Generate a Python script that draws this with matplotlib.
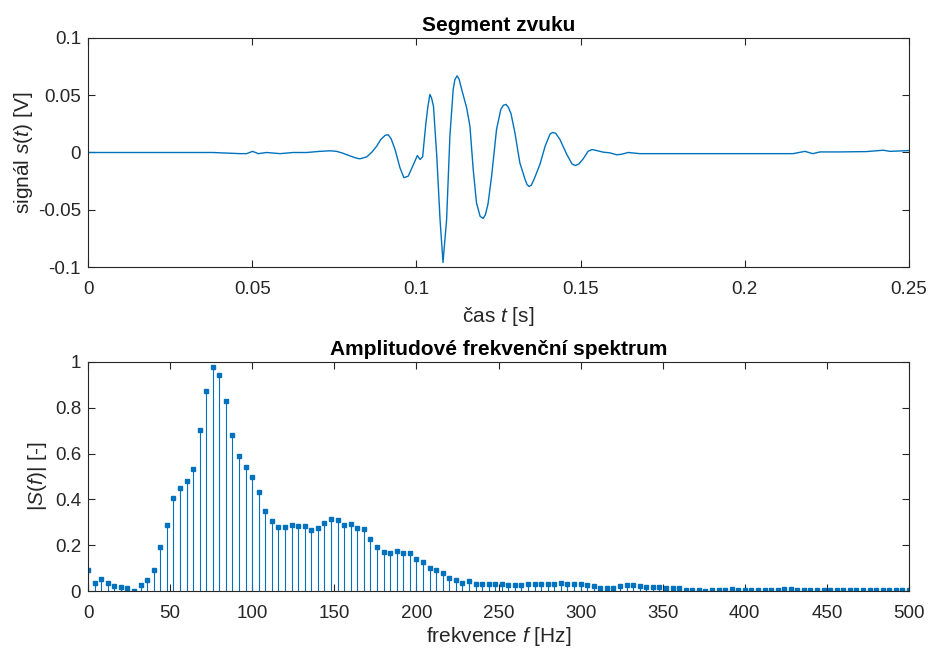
import matplotlib
matplotlib.use("Agg")
import matplotlib.pyplot as plt
import numpy as np

# ---- data: signal segment (time [s], value [V])
sig_t = [0.0, 0.038, 0.0463, 0.0483, 0.0501, 0.0519, 0.0544, 0.0585, 0.0625, 0.0666,
         0.0706, 0.0737, 0.0757, 0.0775, 0.0798, 0.0818, 0.0828, 0.0849, 0.0865, 0.0879,
         0.0892, 0.0905, 0.0914, 0.0923, 0.0935, 0.0950, 0.0962, 0.0975, 0.0991, 0.1003,
         0.1011, 0.1019, 0.1029, 0.1035, 0.1041, 0.1046, 0.1052, 0.1062, 0.1072, 0.1081,
         0.1092, 0.1102, 0.1112, 0.1117, 0.1124, 0.1130, 0.1138, 0.1153, 0.1163, 0.1173,
         0.1183, 0.1194, 0.1203, 0.1210, 0.1218, 0.1229, 0.1244, 0.1257, 0.1265, 0.1273,
         0.1280, 0.1288, 0.1300, 0.1315, 0.1331, 0.1337, 0.1343, 0.1350, 0.1358, 0.1376,
         0.1392, 0.1407, 0.1415, 0.1424, 0.1437, 0.1458, 0.1474, 0.1484, 0.1495, 0.1508,
         0.1523, 0.1535, 0.1549, 0.1569, 0.1589, 0.1610, 0.1625, 0.1645, 0.1680, 0.1864,
         0.2067, 0.2147, 0.2183, 0.2207, 0.2229, 0.2290, 0.2370, 0.2422, 0.2442, 0.2500]
sig_v = [0.0, 0.0, -0.001, -0.001, 0.001, -0.001, 0.0, -0.001, 0.0, 0.0,
         0.001, 0.0015, 0.001, -0.0005, -0.003, -0.005, -0.0055, -0.0038, 0.0005, 0.0055,
         0.0115, 0.0150, 0.0155, 0.0120, 0.0026, -0.0134, -0.0220, -0.0207, -0.0105, -0.0026,
         -0.0061, -0.0038, 0.0260, 0.0400, 0.0507, 0.0478, 0.0404, -0.0030, -0.0585, -0.0960,
         -0.0585, 0.0143, 0.0550, 0.0635, 0.0670, 0.0640, 0.0550, 0.0390, 0.0230, -0.0148,
         -0.0440, -0.0557, -0.0576, -0.0545, -0.0450, -0.0207, 0.0201, 0.0376, 0.0413, 0.0420,
         0.0395, 0.0340, 0.0172, -0.0090, -0.0236, -0.0280, -0.0297, -0.0285, -0.0236, -0.0105,
         0.0055, 0.0162, 0.0175, 0.0168, 0.0114, -0.0017, -0.0100, -0.0114, -0.0100, -0.0055,
         0.0011, 0.0026, 0.0017, 0.0003, -0.0003, -0.002, -0.0015, 0.0, -0.001, -0.001,
         -0.001, -0.001, 0.001, -0.001, 0.0005, 0.0005, 0.0008, 0.002, 0.001, 0.0017]

# ---- data: amplitude spectrum, 0..500 Hz step 4 Hz
freq_step = 4
spec = [0.09, 0.036, 0.051, 0.033, 0.022, 0.016, 0.013, 0.002, 0.028, 0.048,
        0.091, 0.19, 0.29, 0.406, 0.451, 0.48, 0.531, 0.702, 0.872, 0.98,
        0.943, 0.83, 0.681, 0.589, 0.543, 0.496, 0.432, 0.35, 0.304, 0.28,
        0.28, 0.29, 0.286, 0.284, 0.265, 0.277, 0.297, 0.313, 0.31, 0.287,
        0.291, 0.277, 0.269, 0.226, 0.191, 0.17, 0.166, 0.176, 0.165, 0.167,
        0.14, 0.125, 0.1, 0.09, 0.079, 0.055, 0.048, 0.037, 0.042, 0.032,
        0.032, 0.032, 0.032, 0.032, 0.025, 0.028, 0.025, 0.03, 0.03, 0.03,
        0.032, 0.029, 0.035, 0.03, 0.032, 0.029, 0.028, 0.022, 0.012, 0.012,
        0.012, 0.024, 0.028, 0.027, 0.022, 0.018, 0.018, 0.018, 0.012, 0.011,
        0.011, 0.006, 0.005, 0.005, 0.002, 0.004, 0.005, 0.006, 0.007, 0.006,
        0.006, 0.005, 0.004, 0.004, 0.005, 0.005, 0.007, 0.007, 0.006, 0.006,
        0.004, 0.004, 0.004, 0.003, 0.004, 0.004, 0.004, 0.005, 0.004, 0.004,
        0.004, 0.003, 0.003, 0.003, 0.003, 0.003]
freqs = np.arange(len(spec)) * freq_step

top_xticks = [0, 0.05, 0.1, 0.15, 0.2, 0.25]
top_xlabels = ["0", "0.05", "0.1", "0.15", "0.2", "0.25"]
top_yticks = [-0.1, -0.05, 0, 0.05, 0.1]
top_ylabels = ["-0.1", "-0.05", "0", "0.05", "0.1"]
bot_xticks = list(range(0, 501, 50))
bot_yticks = [0, 0.2, 0.4, 0.6, 0.8, 1]
bot_ylabels = ["0", "0.2", "0.4", "0.6", "0.8", "1"]

# ---- style
plt.rcParams['font.family'] = ['Liberation Sans', 'DejaVu Sans']
plt.rcParams['mathtext.fontset'] = 'custom'
plt.rcParams['mathtext.it'] = 'Liberation Sans:italic'
plt.rcParams['mathtext.rm'] = 'Liberation Sans'
plt.rcParams['axes.unicode_minus'] = False

BLUE = '#0072BD'
AX = '#262626'
fs_tick = 13.5
fs_lab = 15
fs_title = 15

fig = plt.figure(figsize=(9.31, 6.52), dpi=100)
W, H = 931, 652
ax1 = fig.add_axes([88 / W, 1 - 267 / H, 821 / W, 229 / H])
ax2 = fig.add_axes([88 / W, 1 - 591 / H, 821 / W, 229 / H])

def style(ax):
    for s in ax.spines.values():
        s.set_color(AX)
        s.set_linewidth(0.8)
    ax.tick_params(direction='in', top=True, right=True, length=5, width=0.8,
                   colors=AX, labelsize=fs_tick)
    ax.tick_params(axis='x', pad=10)
    ax.tick_params(axis='y', pad=5)

ax1.plot(sig_t, sig_v, color=BLUE, lw=1.0)
ax1.set_xlim(0, 0.25)
ax1.set_ylim(-0.1, 0.1)
ax1.set_xticks(top_xticks)
ax1.set_xticklabels(top_xlabels)
ax1.set_yticks(top_yticks)
ax1.set_yticklabels(top_ylabels)
ax1.set_title('Segment zvuku', fontsize=fs_title, fontweight='bold', color='black', pad=5)
ax1.set_xlabel(r'čas $\mathit{t}$ [s]', fontsize=fs_lab, color=AX, labelpad=5)
ax1.set_ylabel(r'signál $\mathit{s}$($\mathit{t}$) [V]', fontsize=fs_lab, color=AX, labelpad=2)
style(ax1)

ml, sl, bl = ax2.stem(freqs, spec, basefmt=' ')
plt.setp(sl, color=BLUE, linewidth=0.8)
plt.setp(ml, color=BLUE, marker='s', markersize=3.0)
ax2.set_xlim(0, 500)
ax2.set_ylim(0, 1)
ax2.set_xticks(bot_xticks)
ax2.set_yticks(bot_yticks)
ax2.set_yticklabels(bot_ylabels)
ax2.set_title('Amplitudové frekvenční spektrum', fontsize=fs_title, fontweight='bold', color='black', pad=5)
ax2.set_xlabel(r'frekvence $\mathit{f}$ [Hz]', fontsize=fs_lab, color=AX, labelpad=2)
ax2.set_ylabel(r'|$\mathit{S}$($\mathit{f}$)| [-]', fontsize=fs_lab, color=AX, labelpad=4)
style(ax2)

fig.savefig('out.png', dpi=100, facecolor='white')
